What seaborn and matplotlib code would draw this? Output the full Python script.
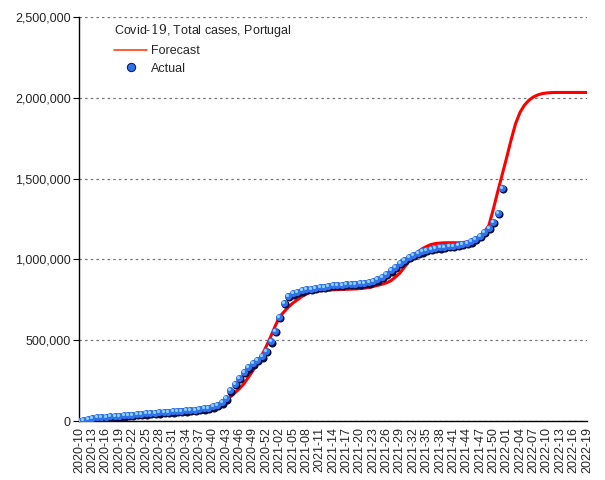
import numpy as np
import pandas as pd
import matplotlib
matplotlib.use("Agg")
import matplotlib.pyplot as plt
import seaborn as sns
from matplotlib.lines import Line2D
from matplotlib.ticker import FuncFormatter, MultipleLocator
from matplotlib.transforms import offset_copy

# weekly categories 2020-10 .. 2022-19
years = [2020, 2021, 2022]
first_week = [10, 1, 1]
last_week = [53, 52, 19]
weeks = []
for yr, w0, w1 in zip(years, first_week, last_week):
    for w in range(w0, w1 + 1):
        weeks.append("%d-%02d" % (yr, w))

# actual total cases (thousands), 2020-10 .. 2021-52
actual_k = [2, 6, 12, 18, 22, 25, 27, 29, 31, 33,
            35, 38, 40, 42, 45, 47, 49, 51, 53, 55,
            57, 59, 61, 63, 66, 68, 71, 74, 78, 83,
            90, 100, 115, 140, 190, 228, 268, 305, 332, 357,
            378, 400, 436, 492, 560, 645, 730, 775, 790, 800,
            808, 815, 819, 823, 828, 832, 836, 840, 842, 844,
            846, 848, 850, 852, 854, 858, 865, 876, 892, 910,
            932, 955, 976, 996, 1014, 1028, 1040, 1050, 1058, 1064,
            1069, 1074, 1078, 1082, 1086, 1090, 1094, 1100, 1112, 1127,
            1145, 1170, 1195, 1232, 1289, 1440]

# forecast (thousands), 2020-10 .. 2022-19
forecast_k = [0, 0, 1, 1, 2, 3, 6, 10, 15, 20,
              24, 27, 31, 35, 38, 41, 44, 47, 50, 54,
              58, 62, 65, 67, 69, 71, 74, 78, 83, 88,
              95, 103, 115, 130, 150, 175, 200, 230, 270, 310,
              360, 405, 460, 520, 585, 645, 675, 705, 730, 750,
              770, 785, 797, 802, 805, 808, 810, 812, 813, 814,
              815, 816, 817, 819, 822, 826, 832, 839, 846, 855,
              868, 890, 915, 950, 985, 1017, 1045, 1065, 1080, 1092,
              1098, 1101, 1103, 1103, 1103, 1103, 1104, 1107, 1113, 1125,
              1145, 1170, 1210, 1310, 1420, 1525, 1630, 1740, 1840, 1910,
              1955, 1985, 2005, 2018, 2026, 2030, 2032, 2033, 2033, 2033,
              2033, 2033, 2033, 2033, 2033]

dfF = pd.DataFrame({"week": np.arange(len(forecast_k)), "cases": np.array(forecast_k) * 1000})
dfA = pd.DataFrame({"week": np.arange(len(actual_k)), "cases": np.array(actual_k) * 1000})

sns.set_style("white")
plt.rcParams["font.family"] = ["Liberation Sans", "DejaVu Sans"]
plt.rcParams["mathtext.fontset"] = "dejavuserif"

fig = plt.figure(figsize=(6.05, 4.8), dpi=100)
ax = fig.add_axes([0.1306, 0.1229, 0.8394, 0.8417])

sns.lineplot(data=dfF, x="week", y="cases", ax=ax, color="#ff0000", linewidth=2.2, zorder=2)

# shaded "sphere" markers: shadow, body, highlight
sns.scatterplot(data=dfA, x="week", y="cases", ax=ax, s=34, color="#0a0f45", linewidth=0, zorder=3)
ax.collections[-1].set_offset_transform(offset_copy(ax.transData, fig, x=1, y=-1.2, units="dots"))
sns.scatterplot(data=dfA, x="week", y="cases", ax=ax, s=26, color="#2f72ea", linewidth=0, zorder=4)
sns.scatterplot(data=dfA, x="week", y="cases", ax=ax, s=5, color="#8fd2ff", linewidth=0, zorder=5)
ax.collections[-1].set_offset_transform(offset_copy(ax.transData, fig, x=-1, y=1, units="dots"))

ax.set_xlim(0, len(weeks) - 1)
ax.set_ylim(0, 2500000)
ax.set_xlabel("")
ax.set_ylabel("")

ax.yaxis.set_major_locator(MultipleLocator(500000))
ax.yaxis.set_major_formatter(FuncFormatter(lambda v, p: "{:,.0f}".format(v)))
ax.grid(axis="y", color="#777777", linestyle=(0, (2, 2.5)), linewidth=0.9)
ax.set_axisbelow(True)

ax.set_xticks(np.arange(0, len(weeks), 3))
ax.set_xticklabels(weeks[::3], rotation=90, fontsize=9)
ax.set_xticks(np.arange(len(weeks)), minor=True)
ax.tick_params(axis="x", which="both", length=3.5, width=0.8, color="black", pad=1)
ax.tick_params(axis="y", length=4, width=0.8, color="black", labelsize=9, pad=2, left=True)

for s in ["top", "right"]:
    ax.spines[s].set_visible(False)
for s in ["left", "bottom"]:
    ax.spines[s].set_color("black")
    ax.spines[s].set_linewidth(1)

handles = [Line2D([], [], color="#ff3300", linewidth=1.1),
           Line2D([], [], marker="o", linestyle="None", markersize=6,
                  markerfacecolor="#2f72ea", markeredgecolor="#0a0f45", markeredgewidth=0.7)]
leg = ax.legend(handles, ["Forecast", "Actual"], title="Covid-$\\mathrm{19}$, Total cases, Portugal",
                loc="upper left", bbox_to_anchor=(0.055, 1.005), frameon=False, fontsize=9,
                title_fontsize=9, handlelength=2.6, handletextpad=0.3, labelspacing=0.45,
                borderaxespad=0.2)
leg._legend_box.align = "left"

fig.savefig("out.png", dpi=100, facecolor="white")
